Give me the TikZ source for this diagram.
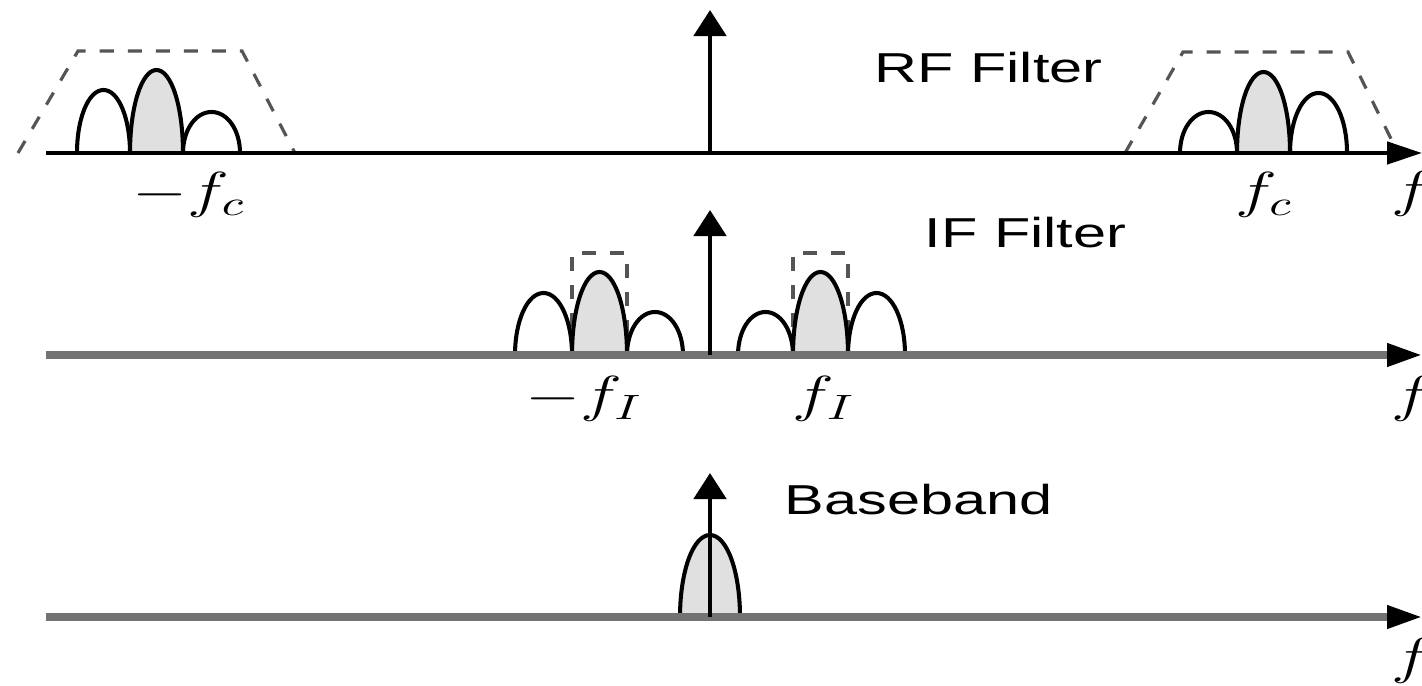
\documentclass[tikz,border=0pt]{standalone}
\usepackage{fontspec}
\setmainfont{Liberation Sans}
\usetikzlibrary{arrows.meta}
\definecolor{lobefill}{RGB}{224,224,224}
\definecolor{dashgray}{RGB}{85,85,85}
\definecolor{axisgray}{RGB}{115,115,115}
\newcommand\lobe[5]{% x0, half width, height, base, options
  \draw[lobeline,#5] (#1,#4) .. controls ++(0,-0.56*#3) and ++(-0.56*#2,0) .. ++(#2,-#3)
    .. controls ++(0.56*#2,0) and ++(0,-0.56*#3) .. ++(#2,#3);}
\tikzset{
  lobeline/.style={line width=1.15pt, black},
  shaded/.style={fill=lobefill},
  filterdash/.style={dashgray, line width=0.9pt, dash pattern=on 0.14cm off 0.14cm},
  axisblack/.style={black, line width=1.3pt, -{Triangle[length=0.35cm,width=0.22cm,color=black]}},
  axisgrey/.style={axisgray, line width=2pt, -{Triangle[length=0.35cm,width=0.22cm,color=black]}},
  impulse/.style={black, line width=1.4pt, -{Triangle[length=0.26cm,width=0.32cm]}},
  lbl/.style={inner sep=0pt, font=\fontsize{11.9}{14}\selectfont},
  mlbl/.style={inner sep=0pt, font=\fontsize{14.4}{17}\selectfont}
}
\begin{document}
\begin{tikzpicture}[x=0.01cm,y=-0.01cm]
\useasboundingbox (0,0) rectangle (1422,686);
% coordinates
\coordinate (a1s) at (46,153);  \coordinate (a1e) at (1422,153);
\coordinate (a2s) at (46,355);  \coordinate (a2e) at (1422,355);
\coordinate (a3s) at (46,617);  \coordinate (a3e) at (1422,617);
\coordinate (o1) at (710,153);  \coordinate (t1) at (710,10);
\coordinate (o2) at (710,355);  \coordinate (t2) at (710,210);
\coordinate (o3) at (710,617);  \coordinate (t3) at (710,473);
% RF filter masks
\draw[filterdash] (18,153) -- (78,51) -- (242,51) -- (295,153);
\draw[filterdash] (1125,153) -- (1183,52) -- (1348,52) -- (1398,153);
% IF filter masks
\draw[filterdash] (572,355) rectangle (627,253);
\draw[filterdash] (793,355) rectangle (848,253);
% top row lobes
\lobe{77}{26.5}{63}{153}{}
\lobe{130}{26.5}{83}{153}{shaded}
\lobe{183}{28.5}{41}{153}{}
\lobe{1180}{28.5}{41}{153}{}
\lobe{1237}{26.5}{81}{153}{shaded}
\lobe{1290}{28.5}{60}{153}{}
% middle row lobes
\lobe{515}{28.5}{62}{355}{}
\lobe{572}{27.5}{83}{355}{shaded}
\lobe{627}{28}{43}{355}{}
\lobe{738}{27.5}{43}{355}{}
\lobe{793}{27.5}{83}{355}{shaded}
\lobe{848}{28.5}{62}{355}{}
% baseband lobe
\lobe{680}{30}{82}{617}{shaded}
% axes
\draw[axisblack] (a1s) -- (a1e);
\draw[axisgrey] (a2s) -- (a2e);
\draw[axisgrey] (a3s) -- (a3e);
% impulses
\draw[impulse] (o1) -- (t1);
\draw[impulse] (o2) -- (t2);
\draw[impulse] (o3) -- (t3);
% labels
\node[lbl, anchor=base west] (rf) at (874,83) {\scalebox{1.42}[1]{RF Filter}};
\node[lbl, anchor=base west] (if) at (924,248) {\scalebox{1.42}[1]{IF Filter}};
\node[lbl, anchor=base west] (bb) at (784,515) {\scalebox{1.42}[1]{Baseband}};
\node[mlbl, anchor=base] (mfc) at (189,208) {\scalebox{1.4}[1]{$-f_c$}};
\node[mlbl, anchor=base] (pfc) at (1264,208) {\scalebox{1.4}[1]{$f_c$}};
\node[mlbl, anchor=base] (mfi) at (584,412) {\scalebox{1.4}[1]{$-f_I$}};
\node[mlbl, anchor=base] (pfi) at (824,412) {\scalebox{1.4}[1]{$f_I$}};
\node[mlbl, anchor=base] (f1) at (1412,207) {\scalebox{1.4}[1]{$f$}};
\node[mlbl, anchor=base] (f2) at (1412,412) {\scalebox{1.4}[1]{$f$}};
\node[mlbl, anchor=base] (f3) at (1412,673) {\scalebox{1.4}[1]{$f$}};
\end{tikzpicture}
\end{document}
